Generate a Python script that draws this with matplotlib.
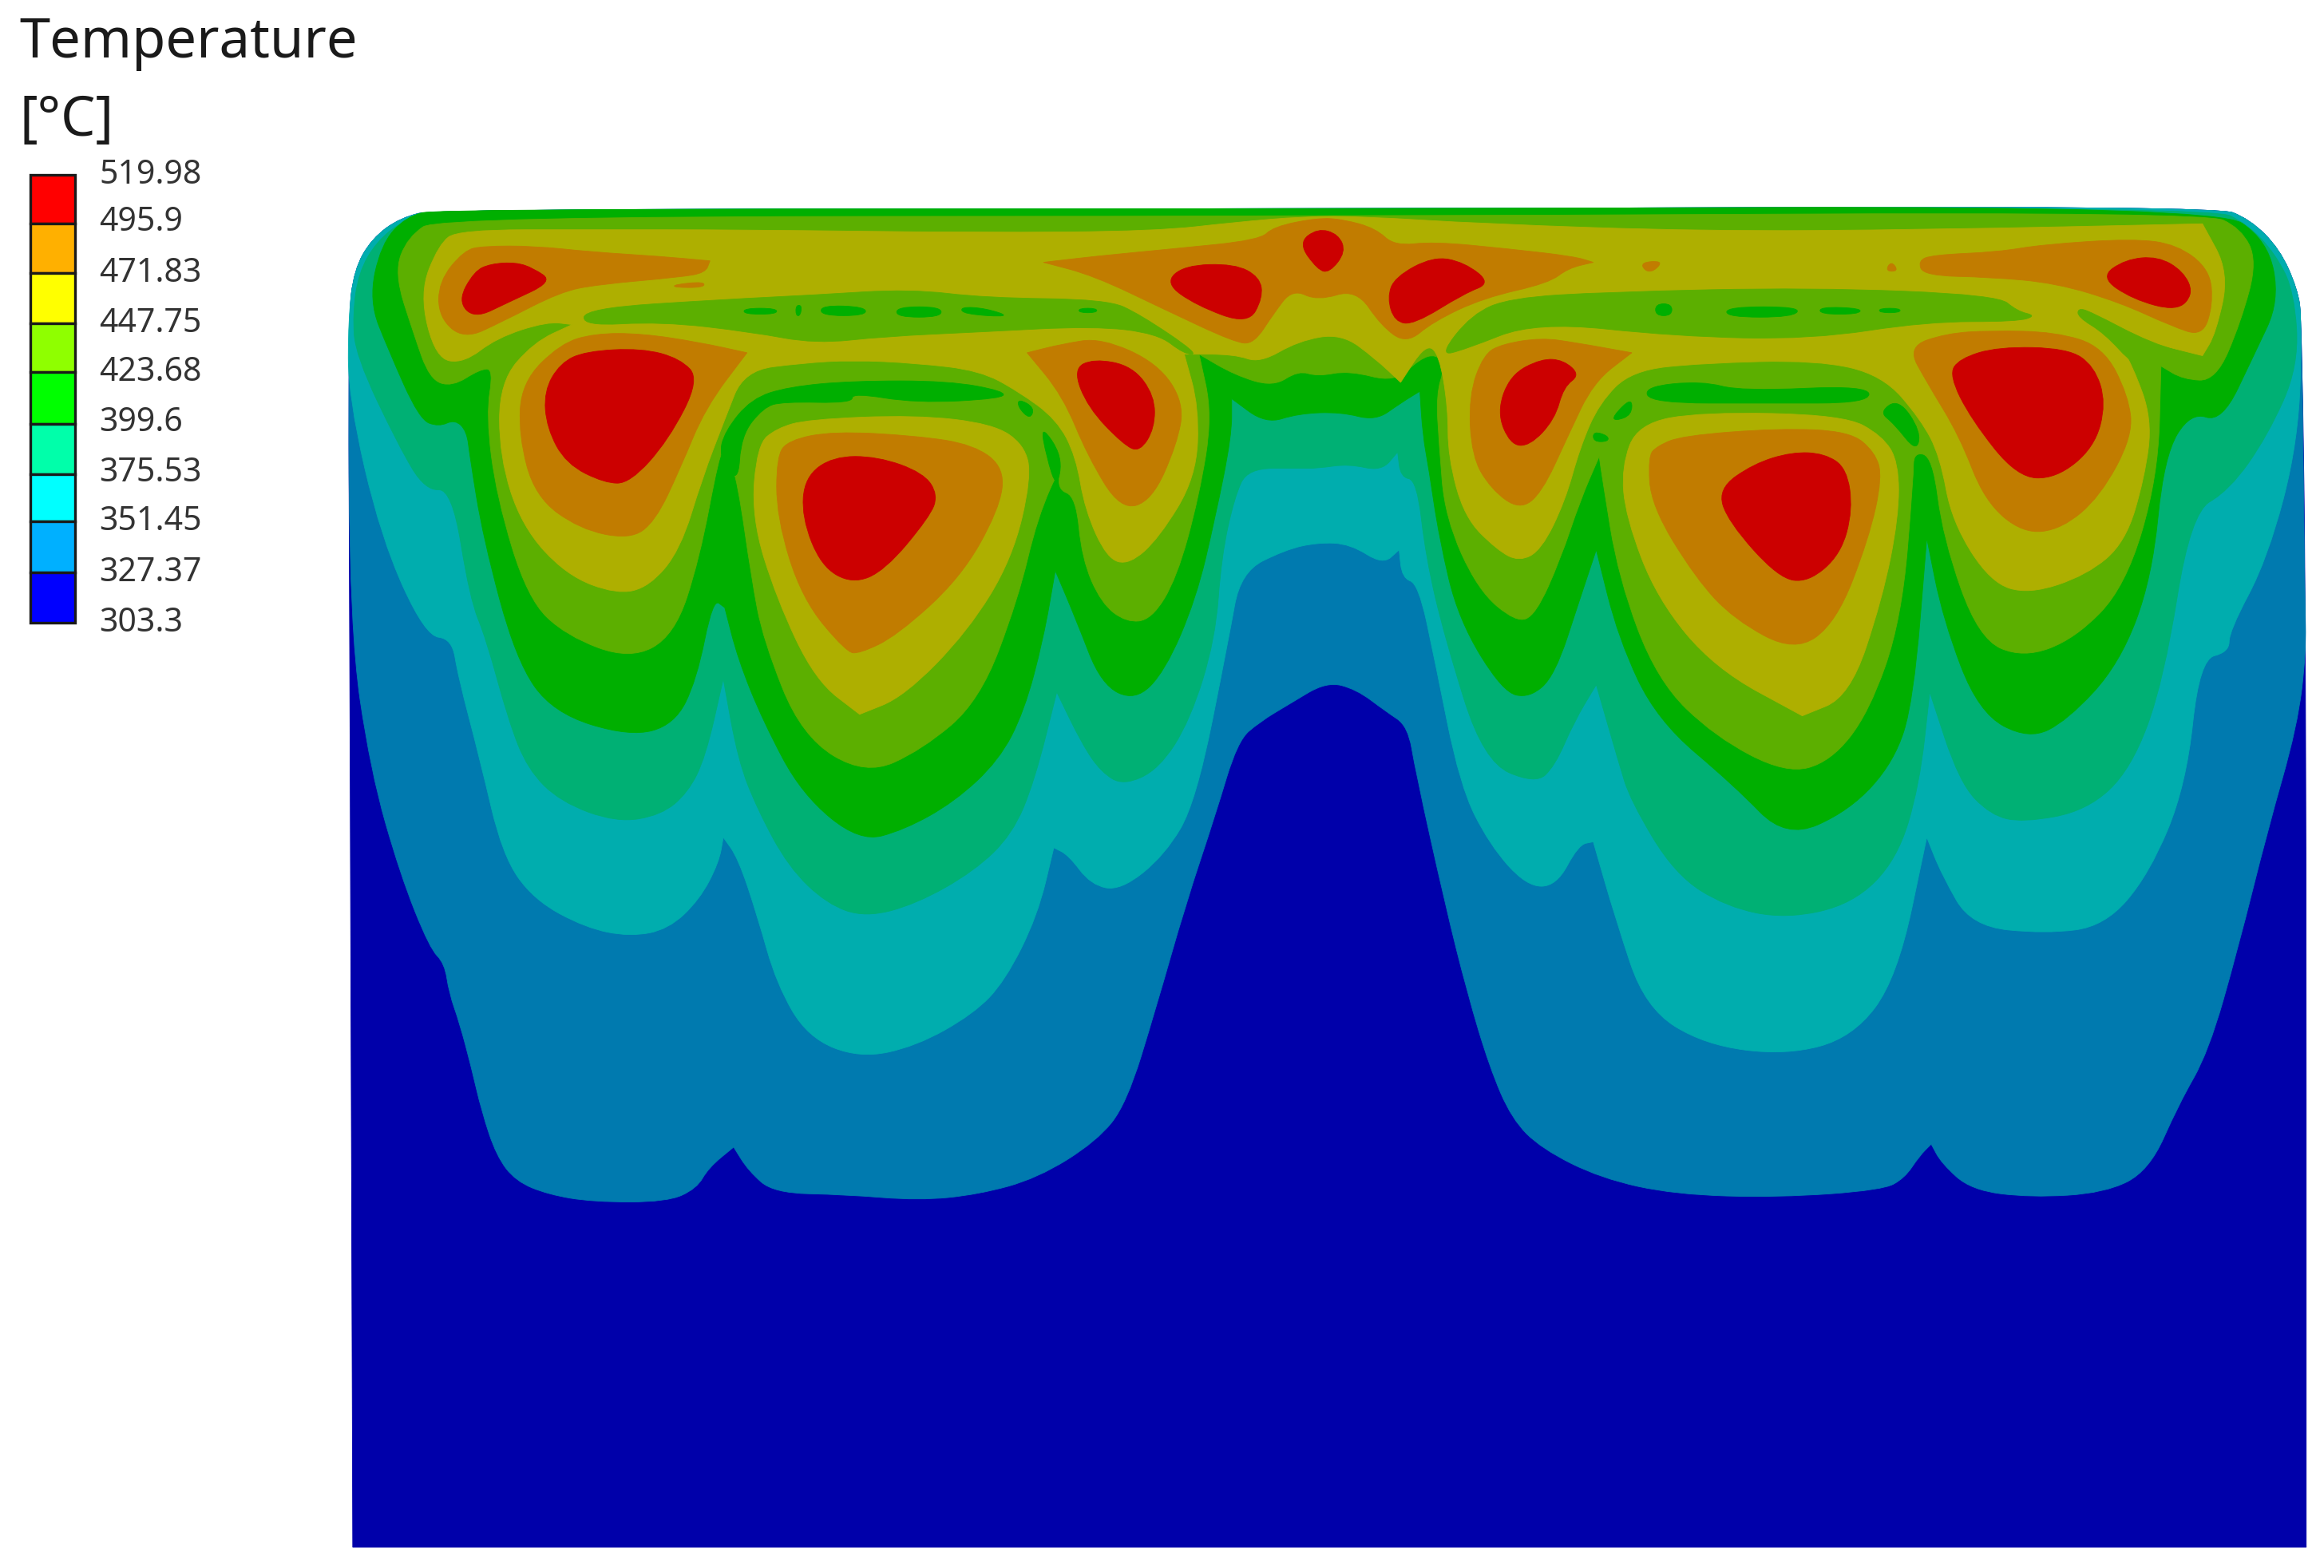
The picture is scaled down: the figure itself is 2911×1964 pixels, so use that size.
import matplotlib
matplotlib.use("Agg")
import matplotlib.pyplot as plt
from matplotlib.path import Path
from matplotlib.patches import PathPatch, Rectangle

# ---------- legend ----------
title_lines = ["Temperature", "[°C]"]
level_labels = ["519.98", "495.9", "471.83", "447.75", "423.68", "399.6", "375.53", "351.45", "327.37", "303.3"]
label_y = [115, 147, 181, 215, 248, 282, 316, 349, 383, 417]
cell_edges = [118, 151, 184.5, 218, 251, 286, 320, 352, 386, 420]
legend_colors = ["#FF0000", "#FFB000", "#FFFF00", "#8FFF00", "#00FF00", "#00FFAA", "#00FFFF", "#00B0FF", "#0000FF"]

# ---------- shaded band colours ----------
C303, C327, C351, C375, C399, C423, C447, C471, C495 = (
    "#0000AA", "#007AAF", "#00ADAE", "#00B074", "#00AF00", "#5CAF00", "#AEAF00", "#C17C00", "#CC0000")

# ---------- isotherm outlines (image coordinates) ----------
top_edge = [(295, 141), (900, 141), (1495, 139)]
left_corner = [(235, 215), (239, 182), (251, 161), (270, 147)]
right_corner = [(1518, 148), (1538, 168), (1550, 195), (1553, 215)]

body = [(238, 1044), (238, 1044), (236, 440)] + left_corner + top_edge + right_corner + [(1556, 440), (1556, 1044), (1556, 1044)]

iso327 = left_corner + top_edge + right_corner + [
    (1555, 404), (1556, 440), (1550, 490), (1530, 560), (1510, 640), (1490, 710),
    (1470, 745), (1450, 790), (1420, 805), (1370, 808), (1330, 803), (1310, 785), (1303, 772), (1303, 772), (1295, 780),
    (1285, 795), (1270, 803), (1200, 808), (1130, 806), (1080, 795), (1040, 775), (1020, 755), (1005, 720), (990, 670),
    (975, 610), (955, 520), (950, 490), (935, 480), (915, 465), (895, 460), (870, 475), (850, 487), (835, 500), (820, 550),
    (800, 610), (780, 680), (760, 745), (740, 770), (700, 795), (660, 806), (620, 810), (570, 806), (522, 805), (505, 790),
    (495, 774), (495, 774), (478, 788), (470, 802), (450, 811), (400, 811), (370, 806), (348, 797), (335, 780), (325, 750),
    (318, 720), (310, 690), (303, 670), (300, 650), (290, 640), (270, 590), (250, 520), (236, 425)]

iso351 = [(235, 268)] + left_corner + top_edge + right_corner + [
    (1551, 297), (1530, 377), (1504, 426), (1504, 440), (1484, 445), (1475, 530),
    (1450, 590), (1420, 625), (1380, 630), (1330, 625), (1310, 590), (1300, 565), (1300, 565), (1280, 660), (1250, 700),
    (1205, 712), (1150, 705), (1110, 680), (1090, 620), (1075, 568), (1075, 568), (1065, 570), (1050, 598), (1030, 598),
    (1005, 570), (985, 530), (968, 445), (957, 394), (946, 390), (944, 371), (944, 371), (933, 381), (911, 367), (889, 366),
    (867, 371), (837, 386), (829, 431), (807, 541), (786, 577), (756, 601), (736, 597), (721, 577), (711, 572), (711, 572),
    (700, 618), (678, 662), (657, 684), (618, 706), (580, 714), (545, 700), (524, 664), (511, 618), (498, 579), (488, 565),
    (488, 565), (485, 582), (472, 607), (451, 627), (425, 632), (395, 626), (360, 607), (339, 577), (324, 513), (309, 456),
    (305, 431), (287, 429), (257, 363)]

iso375 = [(240, 240), (238, 212), (242, 184), (254, 163), (273, 148), (297, 141), (900, 141), (1493, 140),
    (1516, 151), (1535, 171), (1548, 197), (1551, 247), (1530, 294), (1504, 331), (1478, 346), (1460, 459), (1438, 519),
    (1408, 547), (1365, 555), (1343, 550), (1322, 528), (1302, 467), (1302, 467), (1295, 530), (1280, 580), (1250, 610),
    (1205, 620), (1165, 612), (1130, 590), (1100, 540), (1092, 514), (1077, 462), (1077, 462), (1062, 487), (1049, 517),
    (1036, 529), (1001, 514), (975, 431), (962, 376), (956, 324), (945, 322), (943, 305), (943, 305), (932, 318), (910, 313),
    (889, 316), (876, 316), (842, 316), (833, 335), (824, 376), (820, 431), (803, 486), (782, 519), (758, 530), (743, 521),
    (730, 502), (713, 467), (713, 467), (698, 527), (683, 563), (657, 588), (618, 610), (584, 619), (558, 610), (532, 585),
    (511, 546), (498, 513), (488, 458), (488, 458), (476, 511), (464, 535), (446, 550), (416, 555), (378, 541), (356, 519),
    (343, 486), (328, 431), (317, 404), (305, 330), (287, 331), (269, 301)]

iso399 = [(249, 203), (257, 165), (274, 146), (296, 141), (900, 141), (1495, 139),
    (1530, 162), (1538, 203), (1521, 239), (1499, 285), (1478, 278), (1460, 308), (1452, 390), (1430, 448), (1395, 486),
    (1369, 499), (1335, 481), (1311, 418), (1300, 363), (1300, 363), (1291, 473), (1278, 514), (1248, 547), (1205, 566),
    (1170, 530), (1118, 486), (1092, 431), (1077, 371), (1077, 371), (1066, 404), (1049, 456), (1032, 471), (1014, 467),
    (984, 418), (971, 363), (964, 316), (960, 294), (958, 264), (958, 264), (945, 272), (928, 284), (905, 278), (876, 279),
    (854, 286), (831, 269), (831, 269), (831, 294), (820, 349), (807, 404), (786, 453), (766, 473), (743, 462), (726, 418),
    (712, 385), (712, 385), (704, 431), (691, 480), (674, 513), (644, 541), (610, 560), (580, 568), (541, 536), (515, 487),
    (498, 445), (489, 410), (489, 410), (481, 404), (470, 459), (455, 489), (425, 497), (373, 481), (348, 445), (326, 363),
    (317, 308), (315, 291), (307, 283), (296, 288), (283, 283), (262, 236)]

iso423 = [(296, 146), (900, 146), (1488, 143), (1512, 154), (1523, 176), (1512, 217), (1495, 257), (1473, 256), (1458, 247),
    (1458, 247), (1456, 322), (1434, 396), (1400, 431), (1365, 444), (1335, 431), (1311, 363), (1304, 308), (1291, 305),
    (1291, 322), (1283, 418), (1261, 481), (1235, 514), (1205, 522), (1157, 497), (1118, 459), (1092, 390), (1081, 322),
    (1079, 308), (1079, 308), (1066, 338), (1053, 377), (1036, 415), (1023, 420), (997, 398), (975, 349), (971, 300),
    (969, 266), (975, 247), (969, 239), (958, 242), (941, 258), (910, 250), (889, 254), (876, 250), (859, 261), (833, 253),
    (809, 239), (809, 239), (818, 280), (809, 335), (794, 390), (777, 418), (760, 420), (743, 407), (730, 377), (726, 335),
    (713, 330), (717, 311), (700, 349), (687, 404), (661, 473), (622, 506), (584, 523), (541, 497), (515, 432), (507, 390),
    (498, 327), (490, 300), (490, 300), (485, 308), (472, 377), (455, 429), (425, 445), (382, 429), (356, 404), (335, 335),
    (328, 280), (333, 249), (324, 249), (305, 261), (290, 256), (279, 225), (266, 184), (275, 160)]

pockets399 = [
    [(485, 308), (489, 291), (507, 269), (532, 261), (575, 257), (640, 257), (678, 264), (676, 269), (618, 272), (575, 265),
     (575, 272), (528, 271), (515, 275), (500, 294), (498, 327)],
    [(687, 269), (698, 275), (695, 283), (687, 275)],
    [(702, 286), (717, 308), (713, 330), (706, 308)],
    [(1109, 261), (1148, 257), (1175, 264), (1261, 260), (1261, 272), (1192, 272), (1114, 272)],
    [(1088, 281), (1101, 268), (1101, 280), (1090, 284)],
    [(1075, 291), (1085, 294), (1085, 298), (1075, 298)],
    [(1268, 278), (1281, 269), (1296, 291), (1293, 305), (1278, 286)],
]

iso447_main = [(309, 155), (296, 165), (283, 198), (294, 242), (313, 245), (335, 228), (369, 217), (386, 219), (386, 219),
    (360, 231), (337, 258), (337, 308), (352, 355), (382, 388), (416, 401), (438, 396), (459, 371), (474, 322), (489, 283),
    (502, 250), (541, 245), (575, 243), (618, 245), (661, 250), (687, 264), (713, 283), (726, 308), (732, 344), (747, 377),
    (762, 381), (782, 363), (807, 322), (809, 275), (799, 239), (799, 239), (833, 239), (850, 245), (876, 230), (905, 225),
    (928, 242), (945, 258), (945, 258), (962, 232), (971, 239), (977, 275), (977, 308), (988, 349), (1010, 371), (1025, 379),
    (1040, 371), (1056, 338), (1066, 302), (1079, 272), (1101, 250), (1148, 245), (1226, 243), (1270, 253), (1296, 283),
    (1309, 308), (1317, 352), (1343, 393), (1369, 401), (1408, 388), (1434, 366), (1447, 322), (1452, 283), (1439, 247),
    (1426, 225), (1486, 240), (1486, 240), (1495, 225), (1504, 184), (1486, 151), (1486, 151), (1300, 155), (1148, 156),
    (1000, 151), (919, 146), (880, 146), (833, 150), (780, 156), (660, 157), (500, 155), (400, 155)]

iso447_lobes = [
    [(511, 300), (507, 349), (524, 404), (550, 459), (580, 482), (580, 482), (610, 470), (653, 426), (683, 377), (696, 322),
     (691, 300), (670, 286), (618, 280), (545, 283), (524, 289)],
    [(1094, 315), (1097, 349), (1118, 404), (1157, 451), (1216, 483), (1216, 483), (1248, 470), (1270, 404), (1281, 349),
     (1281, 312), (1270, 294), (1244, 280), (1148, 278), (1105, 286)],
]

pockets423 = [
    [(395, 208), (489, 202), (550, 199), (614, 195), (665, 201), (747, 202), (769, 212), (809, 239), (799, 239), (781, 225),
     (738, 220), (661, 224), (597, 227), (550, 232), (507, 224), (446, 217), (393, 220)],
    [(971, 240), (993, 212), (1019, 201), (1084, 197), (1222, 194), (1348, 199), (1361, 210), (1374, 213), (1361, 217),
     (1300, 217), (1222, 229), (1131, 227), (1036, 217), (988, 236)],
    [(1402, 208), (1410, 210), (1452, 232), (1486, 241), (1450, 245), (1440, 247), (1420, 225), (1402, 214)],
]

spots399 = [
    [(502, 208), (524, 208), (524, 212), (502, 212)],
    [(537, 206), (541, 206), (540, 213), (537, 213)],
    [(554, 206), (584, 207), (584, 213), (554, 213)],
    [(605, 207), (635, 207), (635, 214), (605, 214)],
    [(648, 207), (665, 208), (683, 214), (650, 212)],
    [(728, 208), (740, 208), (740, 211), (728, 211)],
    [(1117, 205), (1128, 205), (1128, 213), (1117, 213)],
    [(1165, 207), (1215, 207), (1210, 214), (1165, 214)],
    [(1228, 207), (1256, 208), (1254, 212), (1228, 212)],
    [(1268, 208), (1282, 208), (1282, 211), (1268, 211)],
]

iso471 = [
    [(313, 169), (296, 190), (296, 214), (313, 229), (339, 217), (378, 197), (403, 192), (459, 187), (476, 184), (479, 176),
     (479, 176), (446, 173), (399, 170), (361, 166), (326, 166)],
    [(455, 192), (475, 190), (475, 194), (455, 194)],
    [(401, 225), (378, 232), (352, 258), (350, 294), (361, 335), (391, 357), (425, 364), (442, 352), (459, 316), (476, 275),
     (504, 238), (504, 238), (472, 231), (433, 225)],
    [(704, 177), (704, 177), (738, 186), (786, 209), (833, 231), (846, 232), (859, 212), (872, 195), (889, 203), (915, 195),
     (932, 220), (949, 232), (967, 217), (1001, 201), (1045, 191), (1058, 181), (1075, 177), (1075, 177), (1062, 173),
     (1019, 168), (967, 163), (941, 166), (928, 154), (906, 148), (889, 147), (859, 153), (850, 162), (790, 168), (738, 173)],
    [(1107, 177), (1122, 176), (1116, 183), (1110, 183)],
    [(1272, 183), (1276, 176), (1281, 183)],
    [(1294, 176), (1298, 186), (1343, 187), (1387, 191), (1430, 204), (1465, 220), (1486, 227), (1493, 206), (1491, 182),
     (1469, 165), (1439, 161), (1378, 165), (1348, 170), (1304, 172)],
    [(1001, 239), (991, 267), (993, 308), (1006, 330), (1025, 344), (1040, 333), (1058, 294), (1075, 258), (1101, 238),
     (1101, 238), (1062, 231), (1040, 228), (1014, 232)],
    [(1287, 234), (1300, 258), (1322, 294), (1339, 338), (1365, 360), (1391, 357), (1417, 335), (1439, 294), (1436, 267),
     (1419, 234), (1387, 224), (1343, 223), (1313, 225)],
    [(532, 297), (524, 308), (524, 349), (541, 404), (571, 440), (580, 441), (605, 429), (648, 390), (674, 344), (678, 316),
     (657, 300), (618, 294), (562, 291)],
    [(693, 238), (693, 238), (717, 267), (734, 308), (756, 344), (777, 338), (794, 300), (799, 272), (781, 245), (743, 228),
     (717, 232)],
    [(1112, 308), (1114, 341), (1144, 390), (1170, 418), (1211, 440), (1239, 420), (1261, 363), (1270, 322), (1265, 305),
     (1248, 291), (1200, 289), (1135, 294), (1118, 301)],
]

iso495 = [
    [(320, 183), (309, 203), (320, 215), (343, 204), (373, 190), (360, 181), (348, 177), (331, 178)],
    [(395, 237), (378, 245), (367, 264), (369, 289), (382, 313), (408, 326), (425, 326), (451, 297), (472, 256), (459, 242), (433, 235)],
    [(562, 308), (543, 322), (541, 349), (554, 382), (575, 394), (597, 385), (627, 349), (633, 334), (623, 319), (592, 308)],
    [(738, 242), (724, 249), (734, 275), (758, 300), (769, 305), (779, 289), (779, 267), (764, 247)],
    [(799, 179), (786, 191), (807, 206), (842, 219), (852, 201), (850, 187), (833, 178)],
    [(889, 154), (876, 164), (889, 182), (897, 184), (908, 170), (903, 158)],
    [(967, 173), (941, 187), (936, 201), (941, 217), (954, 219), (988, 198), (1006, 191), (988, 177)],
    [(1040, 242), (1019, 253), (1010, 278), (1019, 300), (1032, 301), (1049, 283), (1055, 261), (1066, 253), (1055, 243)],
    [(1209, 305), (1183, 313), (1159, 330), (1166, 352), (1200, 390), (1220, 393), (1242, 374), (1250, 344), (1246, 316), (1231, 306)],
    [(1348, 234), (1322, 242), (1315, 253), (1330, 283), (1361, 322), (1387, 323), (1413, 302), (1421, 272), (1413, 247), (1395, 235)],
    [(1434, 175), (1417, 187), (1439, 202), (1469, 210), (1480, 198), (1473, 183), (1456, 173)],
]

plt.rcParams["font.family"] = ["Noto Sans", "DejaVu Sans"]
fig = plt.figure(figsize=(29.11, 19.64), dpi=100, facecolor="white")
ax = fig.add_axes([0, 0, 1, 1])
ax.set_xlim(0, 1568)
ax.set_ylim(1058, 0)
ax.axis("off")


def region(points, color, z):
    """Closed outline with each listed vertex as a quadratic Bezier control point."""
    n = len(points)
    mid = lambda a, b: ((a[0] + b[0]) / 2, (a[1] + b[1]) / 2)
    verts = [mid(points[-1], points[0])]
    codes = [Path.MOVETO]
    for i in range(n):
        verts += [points[i], mid(points[i], points[(i + 1) % n])]
        codes += [Path.CURVE3, Path.CURVE3]
    ax.add_patch(PathPatch(Path(verts, codes), facecolor=color, edgecolor=color, linewidth=0.6, zorder=z))


region(body, C303, 1)
region(iso327, C327, 2)
region(iso351, C351, 3)
region(iso375, C375, 4)
region(iso399, C399, 5)
region(iso423, C423, 6)
for p in pockets399:
    region(p, C399, 7)
region(iso447_main, C447, 8)
for p in iso447_lobes:
    region(p, C447, 8)
for p in pockets423:
    region(p, C423, 9)
for p in spots399:
    region(p, C399, 10)
for p in iso471:
    region(p, C471, 11)
for p in iso495:
    region(p, C495, 12)

# legend
for i, c in enumerate(legend_colors):
    ax.add_patch(Rectangle((20.5, cell_edges[i]), 30, cell_edges[i + 1] - cell_edges[i],
                           facecolor=c, edgecolor="#1a1a1a", linewidth=2.4, zorder=20))
for lab, y in zip(level_labels, label_y):
    ax.text(67, y + 3, lab, fontsize=29.5, color="#333333", va="center", ha="left", zorder=21)
ax.text(13, 29, title_lines[0], fontsize=49.5, color="#1a1a1a", va="center", ha="left", zorder=21)
ax.text(13, 82, title_lines[1], fontsize=49.5, color="#1a1a1a", va="center", ha="left", zorder=21)

fig.savefig("out.png", dpi=100, facecolor="white")
